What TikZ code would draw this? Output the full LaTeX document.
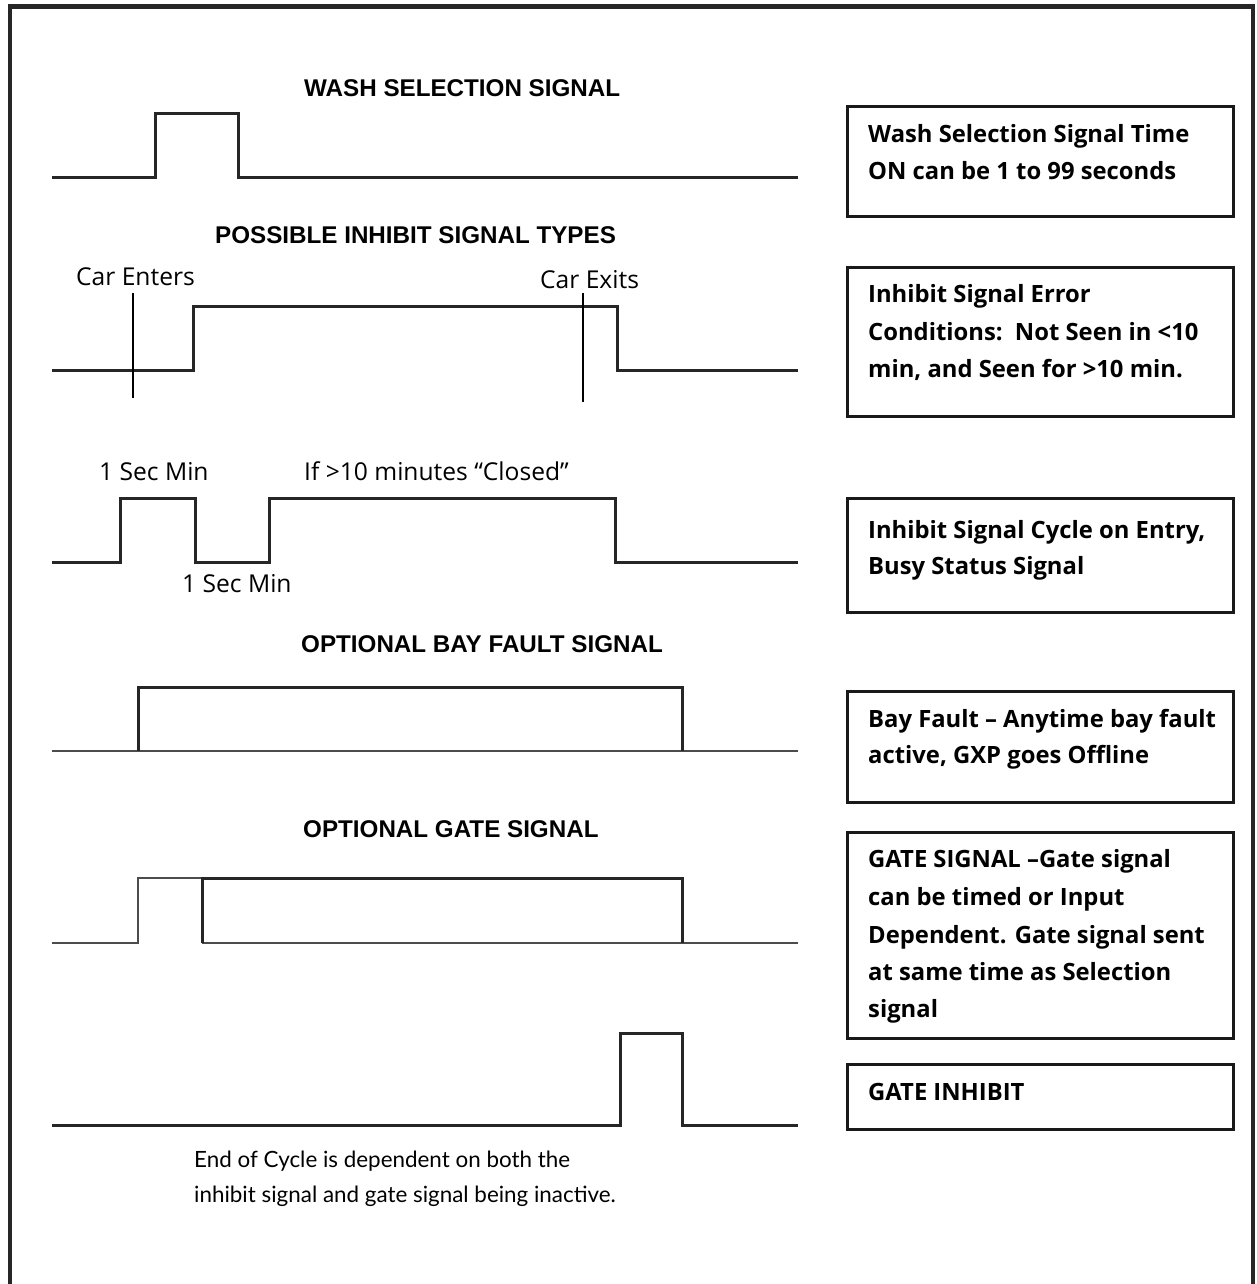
\documentclass[tikz,border=0pt]{standalone}
\usepackage{fontspec}
\setmainfont{Liberation Sans}
\newfontfamily\boxfont{Open Sans}
\newfontfamily\notefont{Lato}
\begin{document}
\begin{tikzpicture}[x=1pt,y=-1pt,
  wave/.style={line width=3pt, draw=black!85, line join=miter, line cap=butt},
  thinwave/.style={line width=2pt, draw=black!70},
  marker/.style={line width=1.8pt, draw=black},
  infobox/.style={draw=black!90, line width=3pt},
  frame/.style={line width=4.5pt, draw=black!85},
  title/.style={font=\fontsize{24.2}{28}\selectfont\bfseries, anchor=base west, inner sep=0pt},
  lbl/.style={font=\boxfont\fontsize{24.6}{28}\selectfont, anchor=base west, inner sep=0pt},
  btxt/.style={font=\boxfont\fontsize{23.8}{28}\selectfont\bfseries, anchor=base west, inner sep=0pt},
  ntxt/.style={font=\notefont\fontsize{22.4}{28}\selectfont, anchor=base west, inner sep=0pt}]
\useasboundingbox (0,0) rectangle (1256,1284);
\fill[white] (0,0) rectangle (1256,1284);
% outer frame (open at bottom)
\draw[frame] (10,1290) -- (10,6.5) -- (1253,6.5) -- (1253,1290);

% ---- Wash selection signal
\node[title] (t1) at (304,97) {WASH SELECTION SIGNAL};
\draw[wave] (52,178) -- (155,178) -- (155,114) -- (238,114) -- (238,178) -- (798,178);

% ---- Possible inhibit signal types
\node[title] (t2) at (215,243) {POSSIBLE INHIBIT SIGNAL TYPES};
\node[lbl] (ce) at (76,285) {Car Enters};
\node[lbl] (cx) at (540,288) {Car Exits};
\draw[wave] (52,370) -- (193,370) -- (193,306) -- (617,306) -- (617,370) -- (798,370);
\coordinate (ceT) at (133,293); \coordinate (ceB) at (133,398);
\coordinate (cxT) at (583,293); \coordinate (cxB) at (583,402);
\draw[marker] (ceT) -- (ceB);
\draw[marker] (cxT) -- (cxB);

% ---- Inhibit cycle
\node[lbl] (s1) at (99,480) {1 Sec Min};
\node[lbl] (s2) at (182,592) {1 Sec Min};
\node[lbl] (cl) at (304,480) {If >10 minutes “Closed”};
\draw[wave] (52,562) -- (120,562) -- (120,498) -- (195,498) -- (195,562) -- (269,562) -- (269,498) -- (615,498) -- (615,562) -- (798,562);

% ---- Optional bay fault signal
\node[title] (t3) at (301,652) {OPTIONAL BAY FAULT SIGNAL};
\draw[thinwave] (52,751) -- (798,751);
\draw[wave] (138,751) -- (138,687) -- (682,687) -- (682,751);

% ---- Optional gate signal
\node[title] (t4) at (303,837) {OPTIONAL GATE SIGNAL};
\draw[thinwave] (52,943) -- (138,943) -- (138,878) -- (202,878);
\draw[thinwave] (202,943) -- (798,943);
\draw[wave] (202,943) -- (202,878) -- (682,878) -- (682,943);

% ---- Gate inhibit
\draw[wave] (52,1125) -- (620,1125) -- (620,1033) -- (682,1033) -- (682,1125) -- (798,1125);

% ---- info boxes
\draw[infobox] (847,107) rectangle (1233,216);
\node[btxt] (b1a) at (868,143) {Wash Selection Signal Time};
\node[btxt] (b1b) at (868,180) {ON can be 1 to 99 seconds};

\draw[infobox] (847,267) rectangle (1233,416);
\node[btxt] (b2a) at (868,302) {Inhibit Signal Error};
\node[btxt] (b2b) at (868,340) {Conditions:\ \ Not Seen in <10};
\node[btxt] (b2c) at (868,377) {min, and Seen for >10 min.};

\draw[infobox] (847,498) rectangle (1233,612);
\node[btxt] (b3a) at (868,538) {Inhibit Signal Cycle on Entry,};
\node[btxt] (b3b) at (868,574) {Busy Status Signal};

\draw[infobox] (847,691) rectangle (1233,802);
\node[btxt] (b4a) at (868,727) {Bay Fault – Anytime bay fault};
\node[btxt] (b4b) at (868,763) {active, GXP goes Offline};

\draw[infobox] (847,832) rectangle (1233,1038);
\node[btxt] (b5a) at (868,867) {GATE SIGNAL –Gate signal};
\node[btxt] (b5b) at (868,905) {can be timed or Input};
\node[btxt] (b5c) at (868,943) {Dependent. Gate signal sent};
\node[btxt] (b5d) at (868,980) {at same time as Selection};
\node[btxt] (b5e) at (868,1017) {signal};

\draw[infobox] (847,1064) rectangle (1233,1129);
\node[btxt] (b6a) at (868,1100) {GATE INHIBIT};

% ---- note
\node[ntxt] (n1) at (194,1167) {End of Cycle is dependent on both the};
\node[ntxt] (n2) at (194,1202) {inhibit signal and gate signal being inactive.};
\end{tikzpicture}
\end{document}
